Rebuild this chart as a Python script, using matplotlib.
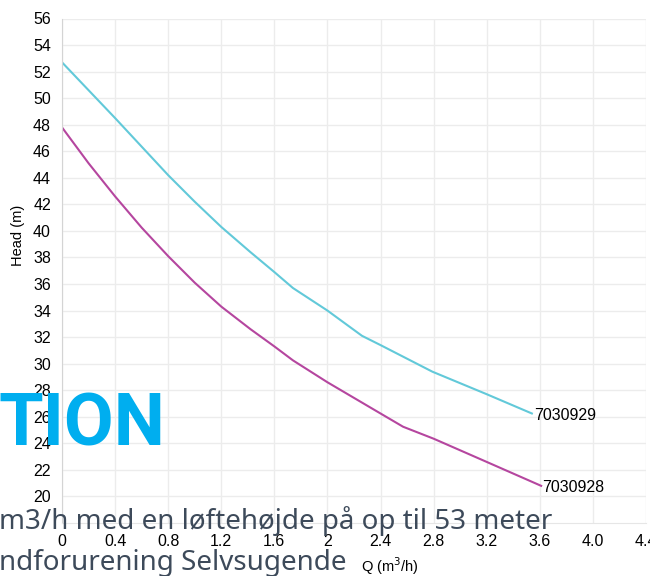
import matplotlib
matplotlib.use('Agg')
import matplotlib.pyplot as plt
from matplotlib import font_manager

# pump curves
q_929 = [0, 0.2, 0.4, 0.6, 0.8, 1.0, 1.2, 1.42, 1.6, 1.74, 2.0, 2.26, 2.4, 2.79, 3.2, 3.54]
h_929 = [52.7, 50.6, 48.5, 46.35, 44.2, 42.2, 40.3, 38.4, 36.9, 35.7, 34.0, 32.1, 31.4, 29.4, 27.7, 26.25]
q_928 = [0, 0.2, 0.4, 0.6, 0.8, 1.0, 1.2, 1.42, 1.6, 1.74, 2.0, 2.34, 2.57, 2.8, 3.2, 3.61]
h_928 = [47.8, 45.1, 42.6, 40.25, 38.1, 36.1, 34.3, 32.6, 31.3, 30.25, 28.6, 26.6, 25.25, 24.35, 22.6, 20.8]
x_ticks = [0, 0.4, 0.8, 1.2, 1.6, 2.0, 2.4, 2.8, 3.2, 3.6, 4.0, 4.4]
x_labels = ['0', '0.4', '0.8', '1.2', '1.6', '2', '2.4', '2.8', '3.2', '3.6', '4.0', '4.4']
y_ticks = list(range(20, 57, 2))

names = [f.name for f in font_manager.fontManager.ttflist]
narrow = 'Liberation Sans Narrow' if 'Liberation Sans Narrow' in names else 'Liberation Sans'

W, H = 650, 576
fig = plt.figure(figsize=(W / 100, H / 100), dpi=100)
ax = fig.add_axes([62 / W, (H - 523) / H, (646 - 62) / W, (523 - 18.5) / H])

ax.plot(q_929, h_929, color='#62c9d9', lw=1.5)
ax.plot(q_928, h_928, color='#b5469f', lw=1.5)
ax.text(q_929[-1] + 0.02, h_929[-1] - 0.15, '7030929', fontsize=11.5, family=narrow, va='center', ha='left')
ax.text(q_928[-1] + 0.005, h_928[-1] - 0.15, '7030928', fontsize=11.5, family=narrow, va='center', ha='left')

ax.set_xlim(0, 4.4)
ax.set_ylim(18, 56)
ax.set_xticks(x_ticks)
ax.set_xticklabels(x_labels, family=narrow, fontsize=11.5)
ax.set_yticks(y_ticks)
ax.set_yticklabels([str(v) for v in y_ticks], family=narrow, fontsize=11.5)
ax.tick_params(length=0, pad=8)
ax.grid(True, color='#ececec', lw=1)
for s in ['top', 'right']:
    ax.spines[s].set_visible(False)
ax.spines['left'].set_color('#d4d4d4')
ax.spines['bottom'].set_color('#e6e6e6')

fig.text(18 / W, 1 - 235 / H, 'Head (m)', rotation=90, family=narrow, fontsize=10.5, ha='center', va='center')
fig.text(390 / W, 1 - 566 / H, 'Q (m$^3$/h)', family=narrow, fontsize=10.5, ha='center', va='center')

# page text overlapping the chart
fig.text(-1 / W, 1 - 445 / H, 'TION', color='#00aeef', family='Roboto', fontweight='bold',
         fontsize=52, ha='left', va='baseline', zorder=10)
fig.text(-1 / W, 1 - 529 / H, 'm3/h med en løftehøjde på op til 53 meter', color='#3d4a5a',
         family='Noto Sans', fontsize=20, ha='left', va='baseline', zorder=10)
fig.text(-1 / W, 1 - 570 / H, 'ndforurening Selvsugende', color='#3d4a5a',
         family='Noto Sans', fontsize=20, ha='left', va='baseline', zorder=10)

fig.savefig('out.png', dpi=100)
